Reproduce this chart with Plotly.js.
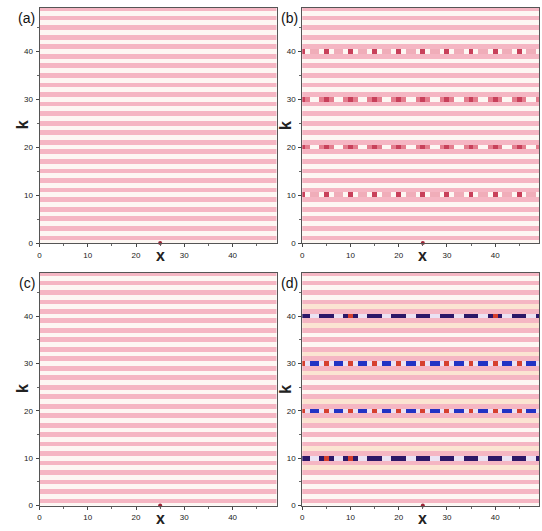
<!DOCTYPE html>
<html>
<head>
<meta charset="utf-8">
<script src="https://cdn.plot.ly/plotly-3.0.1.min.js"></script>
<style>
  html, body { margin: 0; padding: 0; background: #ffffff; }
  #chart { width: 542px; height: 531px; }
</style>
</head>
<body>
<div id="chart"></div>
<script>
// ---- Data ----
// Lattice sites x = 0..49, k = 0..49 (integer grid of the heatmaps)
const xSites = Array.from({length: 50}, (_, i) => i);
const kSites = Array.from({length: 50}, (_, i) => i);

// Colour code of each value level
// 0 white, 1 pink stripe, 2 light red, 3 mid red, 4 dark red,
// 5 blue, 6 navy, 7 orange tint, 8 lavender, 9 red dot (d)
const levelColors = ['#fdf7f3', '#f5b6c3', '#f0adb9', '#e47c8d', '#c8405a',
                     '#2233c4', '#2c1868', '#fbe4d2', '#ebe2f3', '#d6402e'];

// background stripe value for k = 0..49 (odd rows pink)
const stripeByK = '01010 10101 01010 10101 01010 10101 01010 10101 01010 10101';

// Panel (b) special rows, value along x = 0..49
const rowB10 = '40220 40220 40220 40220 40220 40220 40220 40220 40220 40220';
const rowB20 = '43003 43003 43003 43003 43003 43003 43003 43003 43003 43003';
const rowB30 = '43003 43003 43003 43003 43003 43003 43003 43003 43003 43003';
const rowB40 = '40220 40220 40220 40220 40220 40220 40220 40220 40220 40220';

// Panel (d) special rows
const rowD10 = '66886 96886 96886 66886 66886 66886 66886 66886 66886 66886';
const rowD20 = '98558 98558 98558 98558 98558 98558 98558 98558 98558 98558';
const rowD30 = '98558 98558 98558 98558 98558 98558 98558 98558 98558 98558';
const rowD40 = '66886 66886 96886 66886 66886 66886 66886 66886 96886 66886';
const orangeRowsD = [8, 12, 18, 22, 28, 32, 38, 42];

// marker seen on every x axis
const markX = [25];
const markY = [0];

const tickVals = [0, 10, 20, 30, 40];
const panelLabels = ['(a)', '(b)', '(c)', '(d)'];

// ---- Build grids ----
function digits(s) { return s.replace(/\s/g, '').split('').map(Number); }
const stripe = digits(stripeByK);
function grid(specialRows, orangeRows) {
  return kSites.map(k => {
    if (specialRows[k]) return digits(specialRows[k]);
    if (orangeRows && orangeRows.includes(k)) return xSites.map(() => 7);
    return xSites.map(() => stripe[k]);
  });
}
const zA = grid({});
const zB = grid({10: rowB10, 20: rowB20, 30: rowB30, 40: rowB40});
const zC = grid({});
const zD = grid({10: rowD10, 20: rowD20, 30: rowD30, 40: rowD40}, orangeRowsD);

const n = levelColors.length;
const colorscale = [];
levelColors.forEach((c, i) => { colorscale.push([i / n, c]); colorscale.push([(i + 1) / n, c]); });

const W = 542, H = 531;
const px = v => v / W, py = v => 1 - v / H;
const colX = [[39.5, 276.5], [302.3, 539]];
const rowY = [[7.5, 243], [272.5, 505.5]];

const traces = [];
const layout = {
  width: W, height: H, margin: {l: 0, r: 0, t: 0, b: 0},
  paper_bgcolor: '#ffffff', plot_bgcolor: '#ffffff',
  showlegend: false, annotations: [],
  font: {family: 'Arial, Liberation Sans, sans-serif', color: '#222'}
};
const zs = [zA, zB, zC, zD];
zs.forEach((z, i) => {
  const sfx = i === 0 ? '' : String(i + 1);
  const c = colX[i % 2], r = rowY[Math.floor(i / 2)];
  traces.push({
    type: 'heatmap', x: xSites, y: kSites, z: z,
    xaxis: 'x' + sfx, yaxis: 'y' + sfx,
    colorscale: colorscale, zmin: -0.5, zmax: n - 0.5,
    showscale: false, hoverinfo: 'skip'
  });
  traces.push({
    type: 'scatter', mode: 'markers', x: markX, y: markY,
    xaxis: 'x' + sfx, yaxis: 'y' + sfx, cliponaxis: false,
    marker: {size: 4, color: '#9c2436'}, hoverinfo: 'skip'
  });
  const axCommon = {
    showgrid: false, zeroline: false, showline: true, mirror: true,
    linecolor: '#555', linewidth: 1,
    ticks: 'outside', ticklen: 3, tickcolor: '#444', tickwidth: 1,
    tickvals: tickVals, ticktext: tickVals.map(String),
    tickfont: {size: 8, color: '#222', family: 'Arial, Liberation Sans, sans-serif'},
    minor: {tickvals: [5, 15, 25, 35, 45], ticks: 'outside', ticklen: 2, tickcolor: '#666'},
    fixedrange: true
  };
  layout['xaxis' + sfx] = Object.assign({}, axCommon, {
    domain: [px(c[0]), px(c[1])], range: [0, 49.1],
    anchor: 'y' + sfx, ticklabelstandoff: 1
  });
  layout['yaxis' + sfx] = Object.assign({}, axCommon, {
    domain: [py(r[1]), py(r[0])], range: [0, 49.2],
    anchor: 'x' + sfx, ticklabelstandoff: 1
  });
  // axis titles and panel labels
  layout.annotations.push({
    xref: 'paper', yref: 'paper', x: px((c[0] + c[1]) / 2 + 2), y: py(r[1] + 13),
    text: '<b>x</b>', showarrow: false, xanchor: 'center', yanchor: 'middle',
    font: {size: 16, color: '#222'}
  });
  layout.annotations.push({
    xref: 'paper', yref: 'paper', x: px(c[0] - 17.5), y: py((r[0] + r[1]) / 2),
    text: '<b>k</b>', textangle: -90, showarrow: false, xanchor: 'center', yanchor: 'middle',
    font: {size: 16, color: '#222'}
  });
  layout.annotations.push({
    xref: 'paper', yref: 'paper', x: px(c[0] - 13), y: py(r[0] + 10),
    text: panelLabels[i], showarrow: false, xanchor: 'center', yanchor: 'middle',
    font: {size: 14, color: '#111'}
  });
});

Plotly.newPlot('chart', traces, layout, {displayModeBar: false, staticPlot: true});
</script>
</body>
</html>
